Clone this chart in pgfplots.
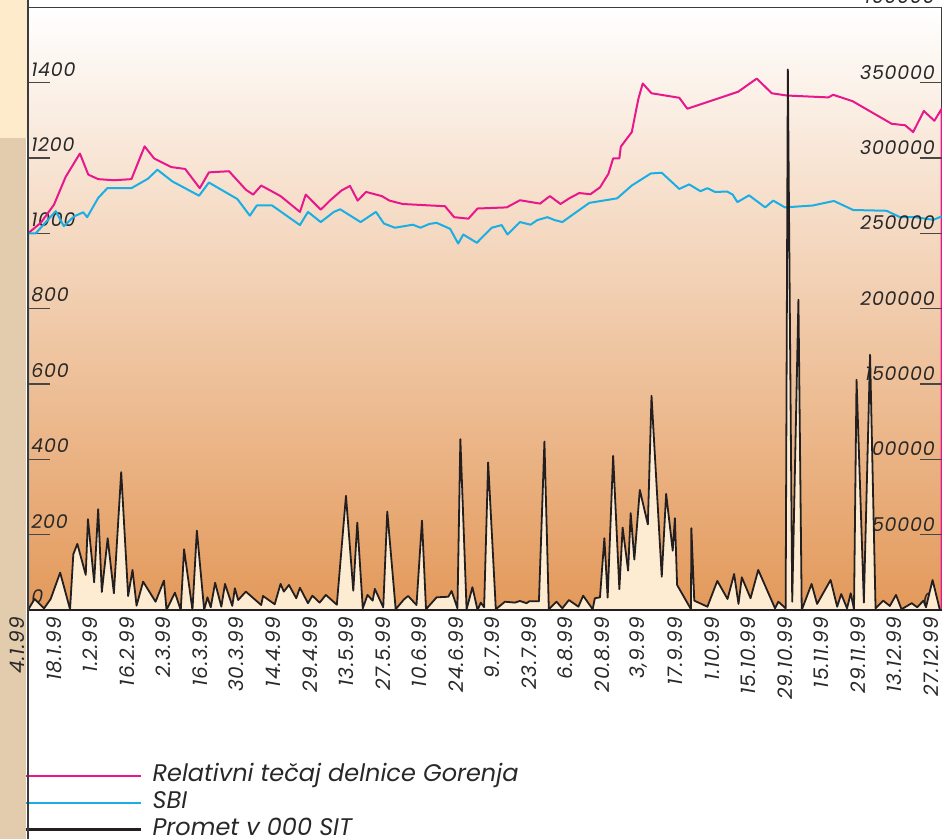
\documentclass[border=0pt]{standalone}
\usepackage{pgfplots}
\pgfplotsset{compat=1.18}
\usepackage{fontspec}
\setmainfont{Poppins}
\newfontfamily\tickfont{Poppins}[Numbers=Monospaced, LetterSpace=4]
\definecolor{pinkl}{RGB}{232,24,140}
\definecolor{bluel}{RGB}{25,174,228}
\definecolor{promblack}{RGB}{35,31,32}
\definecolor{promfill}{RGB}{253,236,210}
\definecolor{bgmid}{RGB}{240,199,160}
\definecolor{bgbot}{RGB}{227,153,90}
\definecolor{stripcream}{RGB}{254,235,204}
\definecolor{striptan}{RGB}{227,203,173}
\definecolor{axisdark}{RGB}{60,60,60}
\definecolor{tickgray}{RGB}{70,70,70}
\definecolor{textgray}{RGB}{40,40,40}
\begin{document}
\begin{tikzpicture}
% left strip and plot background
\fill[stripcream] (-14pt,305pt) rectangle (0pt,236pt);
\fill[striptan] (-14pt,236pt) rectangle (-1.2pt,-114.5pt);
\shade[top color=white, middle color=bgmid, bottom color=bgbot] (0pt,0pt) rectangle (456.85pt,301.3pt);
\begin{axis}[
  at={(0pt,0pt)}, anchor=south west,
  scale only axis, width=456.85pt, height=301.3pt,
  xmin=0, xmax=250, ymin=0, ymax=1600, clip=false,
  axis line style={axisdark, line width=0.6pt},
  ytick={0,200,400,600,800,1000,1200,1400,1600},
  yticklabels={0,200,400,600,800,1000,1200,1400,1600},
  ytick pos=left, tick align=inside, major tick length=11pt,
  ytick style={tickgray, line width=0.6pt},
  yticklabel style={anchor=south west, xshift=1.5pt, yshift=3pt, inner sep=0pt, text=textgray, font=\tickfont\itshape\fontsize{9.5}{11}\selectfont},
  xtick={0,10,...,250},
  xticklabels={4.1.99,18.1.99,1.2.99,16.2.99,2.3.99,16.3.99,30.3.99,14.4.99,29.4.99,13.5.99,27.5.99,10.6.99,24.6.99,9.7.99,23.7.99,6.8.99,20.8.99,{3,9.99},17.9.99,1.10.99,15.10.99,29.10.99,15.11.99,29.11.99,13.12.99,27.12.99},
  xtick style={draw=none},
  xticklabel style={xshift=-5.3pt, rotate=90, anchor=east, text=textgray, font=\tickfont\itshape\fontsize{10}{12}\selectfont},
  legend style={at={(-0.0033,-0.255)}, anchor=north west, draw=none, fill=none, inner sep=0pt, outer sep=0pt, row sep=1.5pt, column sep=5pt, font=\itshape\fontsize{12}{14}\selectfont, text=textgray, nodes={inner sep=0pt, text height=9pt, text depth=3pt}},
  legend cell align=left,
  legend image code/.code={\draw[#1] (0pt,0pt) -- (57.5pt,0pt);},
]
\addplot[pinkl, line width=1pt, line join=round] coordinates {
(0,1000)(3.5,1028)(7.1,1076)(10.3,1150)(14.2,1212)(16.5,1156)(19.2,1144)(23.5,1141)(28.3,1144)(31.9,1231)(34.5,1199)(39.2,1176)(43.0,1171)(47.0,1120)(49.5,1162)(55.0,1165)(59.6,1116)(61.6,1103)(63.8,1127)(69.1,1099)(74.4,1057)(76.0,1103)(80.1,1063)(82.6,1087)(85.8,1114)(88.1,1126)(90.2,1087)(92.5,1110)(96.8,1099)(98.9,1087)(102.5,1078)(114.1,1072)(116.6,1043)(120.5,1039)(123.0,1066)(131.0,1069)(134.6,1088)(140.1,1079)(142.8,1099)(145.7,1078)(148.1,1093)(150.8,1107)(153.9,1104)(156.5,1122)(158.8,1158)(160.1,1199)(161.8,1199)(162.2,1230)(165.2,1269)(167.0,1357)(168.2,1398)(170.6,1372)(178.2,1360)(180.4,1331)(194.3,1376)(199.4,1411)(203.5,1372)(207.6,1366)(219.0,1361)(220.3,1368)(225.6,1351)(236.3,1291)(240.0,1287)(242.2,1269)(245.1,1325)(248.0,1299)(250,1331)(250,0)
};
\addlegendentry{Relativni tečaj delnice Gorenja}
\addplot[bluel, line width=1pt, line join=round] coordinates {
(0,0)(0,1000)(2.1,1000)(7.6,1059)(9.8,1019)(12.6,1045)(15.1,1056)(16.2,1043)(19.2,1094)(21.7,1120)(28.3,1120)(32.8,1145)(35.4,1169)(39.5,1138)(46.8,1100)(49.5,1135)(57.3,1091)(60.7,1047)(62.6,1074)(66.8,1074)(74.4,1022)(76.6,1057)(80.1,1030)(83.7,1057)(85.4,1064)(91.0,1030)(95.2,1057)(97.4,1026)(100.4,1015)(105.3,1023)(107.4,1015)(109.8,1025)(111.8,1028)(115.5,1012)(117.7,973)(119.1,997)(122.8,975)(126.9,1015)(129.6,1022)(131.2,997)(134.6,1030)(137.5,1023)(139.3,1035)(142.1,1043)(144.2,1035)(146.2,1030)(150.1,1057)(153.6,1081)(161.2,1093)(165.2,1127)(170.4,1159)(173.4,1161)(178.2,1118)(180.9,1130)(184.0,1112)(185.9,1120)(188.0,1110)(191.3,1111)(192.8,1103)(194.1,1083)(197.3,1101)(201.7,1069)(203.9,1087)(207.1,1069)(214.7,1074)(220.5,1086)(225.8,1062)(234.9,1060)(238.6,1043)(242.7,1043)(247.7,1036)(250,1045)
};
\addlegendentry{SBI}
\addlegendimage{promblack, line width=1.3pt}
\addlegendentry{Promet v 000 SIT}
\end{axis}
\begin{axis}[
  at={(0pt,0pt)}, anchor=south west,
  scale only axis, width=456.85pt, height=301.3pt,
  xmin=0, xmax=250, ymin=0, ymax=400000, clip=false,
  axis line style={draw=none},
  xtick=\empty,
  scaled y ticks=false,
  ytick={0,50000,100000,150000,200000,250000,300000,350000,400000},
  yticklabels={0,50000,100000,150000,200000,250000,300000,350000,400000},
  ytick pos=right, tick align=inside, major tick length=11pt,
  ytick style={tickgray, line width=0.6pt},
  yticklabel style={anchor=south east, xshift=-3.3pt, yshift=1.5pt, inner sep=0pt, text=textgray, font=\tickfont\itshape\fontsize{9.5}{11}\selectfont},
]
\addplot[promblack, line width=0.9pt, line join=round, fill=promfill] coordinates {
(0,0)(1.8,7300)(4.4,1100)(6.2,7300)(8.8,24800)(11.5,500)(12.4,37000)(13.5,43900)(15.8,23300)(16.4,60300)(18.1,18400)(19.2,66900)(20.2,12000)(21.8,47600)(23.5,11100)(25.5,91500)(27.4,9300)(28.6,26600)(29.7,2900)(31.5,18800)(34.9,5500)(37.2,19500)(37.9,0)(40.2,11500)(41.8,0)(42.7,40300)(45.0,0)(46.2,52700)(48.2,0)(49.1,8400)(50.0,1800)(51.2,18100)(52.9,2200)(53.9,17300)(55.9,2700)(56.6,14400)(57.5,6600)(59.6,12200)(63.8,3300)(64.3,9300)(67.5,3800)(69.1,17300)(70.0,12200)(71.4,16600)(73.4,7800)(74.4,14800)(76.6,4500)(77.8,9500)(79.8,4900)(81.5,10000)(84.5,3500)(87.0,75800)(89.0,12800)(90.1,58000)(91.6,1100)(92.9,10000)(94.3,6200)(94.9,14000)(97.2,1800)(98.3,65300)(100.6,500)(102.9,7100)(104.0,9300)(106.3,3300)(107.8,59300)(108.9,500)(111.8,8400)(115.0,8800)(115.9,12600)(117.5,1100)(118.3,113400)(120.0,500)(121.6,15100)(123.0,0)(123.9,4900)(124.8,1800)(125.9,97900)(128.0,500)(130.5,5500)(133.2,4900)(134.6,6000)(136.4,4500)(137.2,5800)(139.8,5800)(141.3,111800)(142.5,500)(144.6,5500)(146.2,1100)(148.0,6600)(150.6,2200)(151.9,9500)(154.5,500)(155.1,7800)(156.5,8400)(157.7,47600)(158.6,8200)(160.1,102300)(161.8,13800)(162.7,54700)(164.2,26100)(164.9,64300)(165.9,33500)(167.4,79700)(169.6,56800)(170.6,142200)(173.4,22100)(174.6,77100)(176.4,39400)(177.0,60900)(177.6,16600)(181.4,500)(181.5,54300)(182.3,6200)(185.9,2200)(188.6,19300)(191.4,7300)(193.2,23900)(194.4,4000)(195.3,21700)(197.7,7800)(199.8,26600)(204.4,1100)(205.3,5500)(207.3,1100)(207.9,358800)(209.1,5500)(210.8,206000)(211.7,0)(214.4,17300)(215.9,4000)(219.6,19900)(221.4,2200)(222.5,10600)(224.1,1100)(225.1,11100)(226.0,500)(226.7,152800)(228.7,4900)(230.4,169400)(231.9,1100)(234.0,6200)(235.8,2700)(237.5,10000)(239.0,500)(241.8,4500)(243.3,1800)(245.0,6200)(245.7,1800)(247.5,19900)(249.5,0)(250,0)
} \closedcycle;
\end{axis}
\draw[axisdark, line width=0.8pt] (0pt,305pt) -- (0pt,-114.5pt);
\pgfresetboundingbox
\useasboundingbox (-14pt,-114.5pt) rectangle (457pt,305pt);
\end{tikzpicture}
\end{document}
